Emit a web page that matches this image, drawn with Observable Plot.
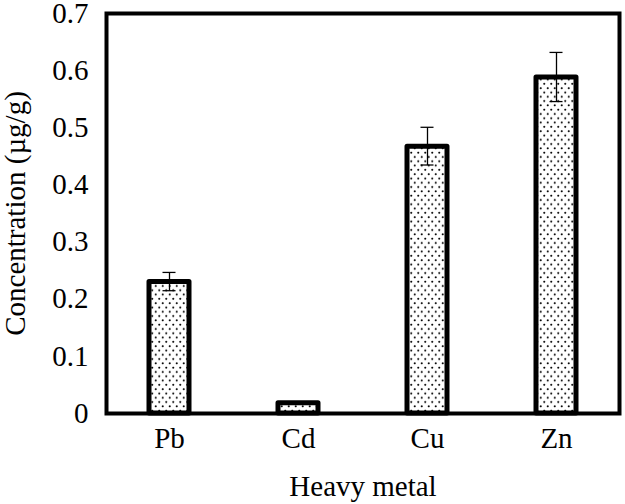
<!DOCTYPE html>
<html>
<head>
<meta charset="utf-8">
<script src="https://cdn.jsdelivr.net/npm/d3@7"></script>
<script src="https://cdn.jsdelivr.net/npm/@observablehq/plot@0.6"></script>
<style>
  html, body { margin: 0; padding: 0; background: #fff; }
  svg, svg text { font-family: "Liberation Serif", "Times New Roman", serif !important; }
  svg { overflow: visible; }
</style>
</head>
<body>
<div id="chart"></div>
<script>
const metals = ["Pb", "Cd", "Cu", "Zn"];
const values = [0.23, 0.018, 0.467, 0.588];
const errors = [0.016, 0, 0.033, 0.043];
const yTicks = [0, 0.1, 0.2, 0.3, 0.4, 0.5, 0.6, 0.7];

const data = metals.map((m, i) => ({metal: m, value: values[i], err: errors[i]}));
const errData = data.filter(d => d.err > 0);
const serif = "'Liberation Serif', 'Times New Roman', serif";
const capHalf = 0.0011;

const chart = Plot.plot({
  width: 625,
  height: 504,
  marginLeft: 106,
  marginRight: 6,
  marginTop: 13,
  marginBottom: 91,
  style: {fontSize: "29px", fontFamily: serif, color: "#000", background: "#fff", overflow: "visible"},
  x: {domain: metals, paddingInner: 0.69, paddingOuter: 0.333, label: null},
  y: {domain: [0, 0.7], label: null},
  marks: [
    Plot.axisY({ticks: yTicks, tickSize: 0, tickPadding: 18, tickFormat: d => d === 0 ? "0" : d3.format(".1f")(d), label: null, fontSize: 29, fontFamily: serif}),
    Plot.axisX({tickSize: 0, tickPadding: 14, label: null, fontSize: 29, fontFamily: serif}),
    Plot.barY(data, {x: "metal", y: "value", fill: "url(#dots)", stroke: "#000", strokeWidth: 5, strokeLinejoin: "round"}),
    Plot.ruleX(errData, {x: "metal", y1: d => d.value - d.err, y2: d => d.value + d.err, stroke: "#000", strokeWidth: 1.3}),
    Plot.barY(errData, {x: "metal", y1: d => d.value + d.err - capHalf, y2: d => d.value + d.err + capHalf, fill: "#000", insetLeft: 13.5, insetRight: 13.5}),
    Plot.barY(errData, {x: "metal", y1: d => d.value - d.err - capHalf, y2: d => d.value - d.err + capHalf, fill: "#000", insetLeft: 13.5, insetRight: 13.5}),
    Plot.frame({stroke: "#000", strokeWidth: 4}),
    Plot.text(["Heavy metal"], {frameAnchor: "bottom", dy: 82, fontSize: 29, fontFamily: serif, fill: "#000"}),
    Plot.text(["Concentration (µg/g)"], {frameAnchor: "left", textAnchor: "middle", rotate: -90, dx: -91, fontSize: 29, fontFamily: serif, fill: "#000"})
  ]
});

const svgNS = "http://www.w3.org/2000/svg";
const defs = document.createElementNS(svgNS, "defs");
const pat = document.createElementNS(svgNS, "pattern");
pat.setAttribute("id", "dots");
pat.setAttribute("patternUnits", "userSpaceOnUse");
pat.setAttribute("width", "7");
pat.setAttribute("height", "8.6");
const bg = document.createElementNS(svgNS, "rect");
bg.setAttribute("width", "7"); bg.setAttribute("height", "8.6"); bg.setAttribute("fill", "#fff");
pat.appendChild(bg);
[[1.75, 2.15], [5.25, 6.45]].forEach(([cx, cy]) => {
  const c = document.createElementNS(svgNS, "circle");
  c.setAttribute("cx", cx); c.setAttribute("cy", cy); c.setAttribute("r", "1.05"); c.setAttribute("fill", "#000");
  pat.appendChild(c);
});
defs.appendChild(pat);
chart.insertBefore(defs, chart.firstChild);
document.getElementById("chart").appendChild(chart);
</script>
</body>
</html>
